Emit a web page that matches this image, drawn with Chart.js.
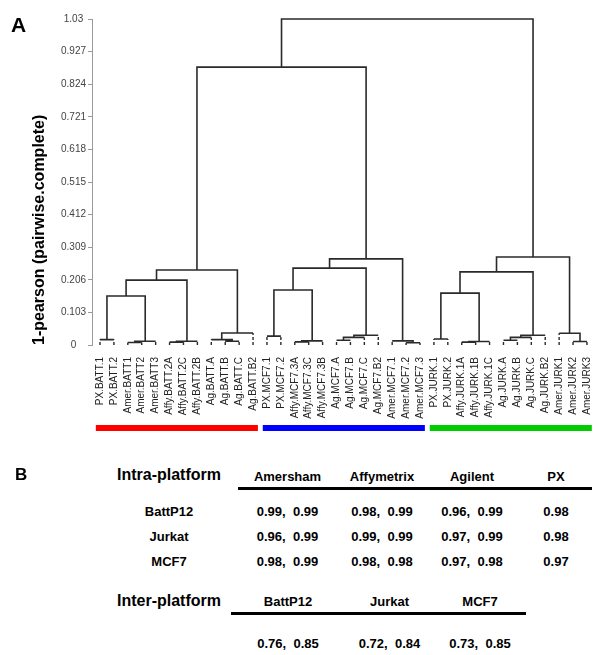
<!DOCTYPE html>
<html>
<head>
<meta charset="utf-8">
<script src="https://cdn.jsdelivr.net/npm/chart.js@4.4.1/dist/chart.umd.min.js"></script>
<style>
  html, body { margin: 0; padding: 0; background: #fff; }
  #page { position: relative; width: 600px; height: 655px; overflow: hidden; background: #fff;
          font-family: "Liberation Sans", Arial, sans-serif; color: #000; }
  #chart-box { position: absolute; left: 0; top: 0; width: 600px; height: 440px; }
  .txt { position: absolute; white-space: pre; font-weight: bold; line-height: normal; }
  .rule { position: absolute; background: #000; }
</style>
</head>
<body>
<div id="page">
  <div id="chart-box"><canvas id="dendro"></canvas></div>
</div>
<script>
// leaves in the order they are drawn
const leafLabels = [
    'PX.BATT.1', 'PX.BATT.2', 'Amer.BATT1', 'Amer.BATT2', 'Amer.BATT3',
    'Affy.BATT.2A', 'Affy.BATT.2C', 'Affy.BATT.2B',
    'Ag.BATT.A', 'Ag.BATT.B', 'Ag.BATT.C', 'Ag.BATT.B2',
    'PX.MCF7.1', 'PX.MCF7.2', 'Affy.MCF7.3A', 'Affy.MCF7.3C', 'Affy.MCF7.3B',
    'Ag.MCF7.A', 'Ag.MCF7.B', 'Ag.MCF7.C', 'Ag.MCF7.B2',
    'Amer.MCF7.1', 'Amer.MCF7.2', 'Amer.MCF7.3',
    'PX.JURK.1', 'PX.JURK.2', 'Affy.JURK.1A', 'Affy.JURK.1B', 'Affy.JURK.1C',
    'Ag.JURK.A', 'Ag.JURK.B', 'Ag.JURK.C', 'Ag.JURK.B2',
    'Amer.JURK1', 'Amer.JURK2', 'Amer.JURK3'
];

// merges: [left, right, height]; an id >= 36 points at merge (id - 36)
const merges = [
    [0, 1, 0.017], [2, 3, 0.008], [37, 4, 0.012], [5, 6, 0.009], [39, 7, 0.012],
    [9, 10, 0.012], [8, 41, 0.017], [42, 11, 0.038],
    [36, 38, 0.155], [44, 40, 0.205], [45, 43, 0.237],
    [12, 13, 0.028], [14, 15, 0.010], [48, 16, 0.013],
    [17, 18, 0.015], [50, 19, 0.024], [51, 20, 0.031],
    [22, 23, 0.007], [21, 53, 0.013],
    [47, 49, 0.174], [55, 52, 0.243], [56, 54, 0.272],
    [46, 57, 0.878],
    [24, 25, 0.019], [26, 27, 0.009], [60, 28, 0.011],
    [29, 30, 0.015], [62, 31, 0.024], [63, 32, 0.031],
    [34, 35, 0.011], [33, 65, 0.037],
    [59, 61, 0.164], [67, 64, 0.231], [68, 66, 0.278],
    [58, 69, 1.03]
];

const yTickValues = [0, 0.103, 0.206, 0.309, 0.412, 0.515, 0.618, 0.721, 0.824, 0.927, 1.03];
const yTickLabels = ['0', '0.103', '0.206', '0.309', '0.412', '0.515', '0.618', '0.721', '0.824', '0.927', '1.03'];

// coloured bars under the leaf labels
const groupFrom = [0, 12, 24];
const groupTo = [11, 23, 35];
const groupColors = ['#ff0000', '#0000ff', '#00cc00'];

// panel B
const platforms = ['Amersham', 'Affymetrix', 'Agilent', 'PX'];
const cellLines = ['BattP12', 'Jurkat', 'MCF7'];
const intraBatt = [[0.99, 0.99], [0.98, 0.99], [0.96, 0.99], [0.98]];
const intraJurkat = [[0.96, 0.99], [0.99, 0.99], [0.97, 0.99], [0.98]];
const intraMcf7 = [[0.98, 0.99], [0.98, 0.98], [0.97, 0.98], [0.97]];
const interValues = [[0.76, 0.85], [0.72, 0.84], [0.73, 0.85]];

// build the dendrogram polylines
const nLeaves = leafLabels.length;
const nodeX = leafLabels.map((_, i) => i);
const nodeH = leafLabels.map(() => 0);
const solid = [];
const dashed = [];
merges.forEach(([a, b, h]) => {
    [a, b].forEach(c => {
        if (c < nLeaves) dashed.push({x: nodeX[c], y: 0}, {x: nodeX[c], y: h}, {x: nodeX[c], y: null});
    });
    const xa = nodeX[a], xb = nodeX[b];
    solid.push(
        {x: xa, y: a < nLeaves ? h : nodeH[a]}, {x: xa, y: h},
        {x: xb, y: h}, {x: xb, y: b < nLeaves ? h : nodeH[b]},
        {x: xb, y: null}
    );
    nodeX.push((xa + xb) / 2);
    nodeH.push(h);
});

const groupBars = {
    id: 'groupBars',
    afterDraw(chart) {
        const {ctx, scales: {x}} = chart;
        ctx.save();
        groupFrom.forEach((from, i) => {
            const x0 = x.getPixelForValue(from - 0.3);
            const x1 = x.getPixelForValue(groupTo[i] + 0.35);
            ctx.fillStyle = groupColors[i];
            ctx.fillRect(x0, 425, x1 - x0, 6);
        });
        ctx.restore();
    }
};

Chart.defaults.font.family = "'Liberation Sans', Arial, sans-serif";

new Chart(document.getElementById('dendro'), {
    type: 'scatter',
    data: {
        datasets: [
            { data: solid, showLine: true, borderColor: '#2a2a2a', borderWidth: 1.6,
              pointRadius: 0, spanGaps: false, clip: false },
            { data: dashed, showLine: true, borderColor: '#2a2a2a', borderWidth: 1.4,
              borderDash: [3, 2], pointRadius: 0, spanGaps: false, clip: false }
        ]
    },
    options: {
        responsive: true,
        maintainAspectRatio: false,
        animation: false,
        layout: { padding: { left: 0, right: 4, top: 19, bottom: 0 } },
        plugins: { legend: { display: false }, tooltip: { enabled: false } },
        scales: {
            x: {
                type: 'linear',
                min: -0.575,
                max: 35.65,
                grid: { display: false, drawTicks: false },
                border: { display: false },
                afterBuildTicks: axis => { axis.ticks = leafLabels.map((_, i) => ({ value: i })); },
                ticks: {
                    autoSkip: false, minRotation: 90, maxRotation: 90, padding: 12,
                    color: '#222', font: { size: 10 },
                    callback: (v, i) => leafLabels[i]
                },
                afterFit: axis => { axis.height = 95; axis.paddingLeft = 0; axis.paddingRight = 0; }
            },
            y: {
                min: 0,
                max: 1.03,
                afterBuildTicks: axis => { axis.ticks = yTickValues.map(v => ({ value: v })); },
                ticks: {
                    color: '#444', font: { size: 10 }, padding: 2, crossAlign: 'center',
                    callback: (v, i) => yTickLabels[i]
                },
                grid: { drawOnChartArea: false, tickLength: 4, color: '#9a9a9a' },
                border: { color: '#9a9a9a', width: 1 },
                title: {
                    display: true, text: '1-pearson (pairwise.complete)', align: 'start',
                    color: '#000', font: { size: 16, weight: 'bold' }, padding: { top: 30, bottom: 0 }
                },
                afterFit: axis => { axis.width = 92; axis.paddingTop = 0; axis.paddingBottom = 0; }
            }
        }
    },
    plugins: [groupBars]
});

// panel labels and table B
const page = document.getElementById('page');

function addText(text, x, y, size, align) {
    const el = document.createElement('div');
    el.className = 'txt';
    el.textContent = text;
    el.style.left = x + 'px';
    el.style.top = y + 'px';
    el.style.fontSize = size + 'px';
    el.style.transform = align === 'left' ? 'translate(0, -50%)' : 'translate(-50%, -50%)';
    page.appendChild(el);
}

function addRule(x0, x1, y) {
    const el = document.createElement('div');
    el.className = 'rule';
    el.style.left = x0 + 'px';
    el.style.top = (y - 1.5) + 'px';
    el.style.width = (x1 - x0) + 'px';
    el.style.height = '3px';
    page.appendChild(el);
}

const fmt = vals => vals.map(v => v.toFixed(2)).join(',  ');

addText('A', 11, 24.5, 21, 'left');
addText('B', 15, 475, 17, 'left');

const intraX = [287.5, 382, 472, 556];
addText('Intra-platform', 117, 475, 16, 'left');
platforms.forEach((p, i) => addText(p, intraX[i], 476, 13));
addRule(238, 592, 488);
const rowY = [511, 536, 561];
[intraBatt, intraJurkat, intraMcf7].forEach((row, r) => {
    addText(cellLines[r], 169, rowY[r], 13);
    row.forEach((vals, i) => addText(fmt(vals), intraX[i], rowY[r], 13));
});

const interX = [288, 389.5, 480];
addText('Inter-platform', 117, 601, 16, 'left');
cellLines.forEach((c, i) => addText(c, interX[i], 601, 13));
addRule(231, 526, 613);
interValues.forEach((vals, i) => addText(fmt(vals), interX[i], 643, 13));
</script>
</body>
</html>
